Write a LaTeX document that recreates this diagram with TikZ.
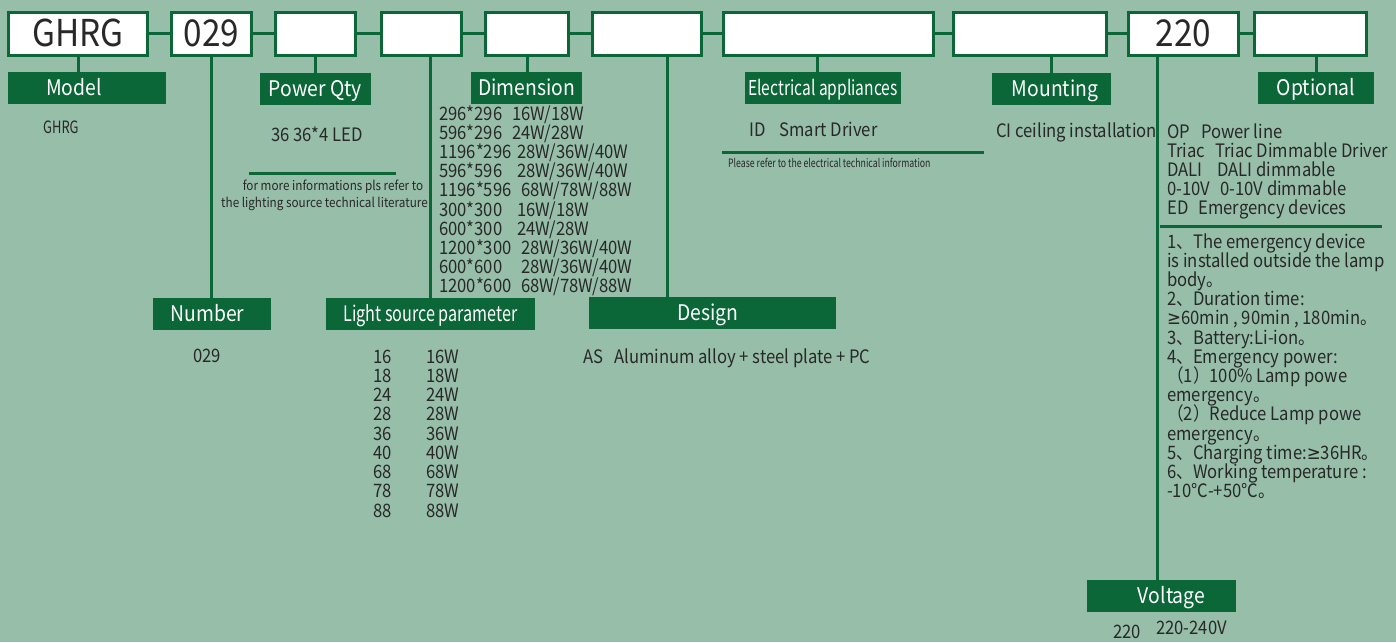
\documentclass[tikz,border=0pt]{standalone}
\usepackage{fontspec}
\setmainfont{Noto Sans CJK SC}[FakeStretch=0.9]
\newfontfamily\narrowfont{Noto Sans CJK SC}[FakeStretch=0.76]
\newfontfamily\symfont{DejaVu Sans}[FakeStretch=0.9]
\definecolor{sage}{RGB}{150,190,169}
\definecolor{dkgreen}{RGB}{11,102,56}
\definecolor{ink}{RGB}{40,40,40}
\tikzset{
  codebox/.style={draw=dkgreen,line width=3pt,fill=white,minimum height=43,inner sep=0,
    text=ink,text height=24,text depth=0,font=\fontsize{37}{37}\selectfont},
  tag/.style={fill=dkgreen,text=white,minimum height=32,inner sep=0,
    text height=14,text depth=0,font=\fontsize{21.5}{21.5}\selectfont},
  link/.style={draw=dkgreen,line width=3pt},
  body/.style={anchor=base west,inner sep=0,text=ink,font=\fontsize{18.5}{19}\selectfont},
  small/.style={anchor=base,inner sep=0,text=ink,font=\fontsize{13}{13}\selectfont},
}
\newcommand{\atleast}{{\symfont ≥}}
\begin{document}
\begin{tikzpicture}[x=1pt,y=-1pt]
  \fill[sage] (0,0) rectangle (1396,642);
  \useasboundingbox (0,0) rectangle (1396,642);

  % code row
  \node[codebox,minimum width=139] (b1) at (78,34) {GHRG};
  \node[codebox,minimum width=80] (b2) at (211.5,34) {029};
  \node[codebox,minimum width=80] (b3) at (315.5,34) {};
  \node[codebox,minimum width=80] (b4) at (421.5,34) {};
  \node[codebox,minimum width=83] (b5) at (527,34) {};
  \node[codebox,minimum width=109] (b6) at (647,34) {};
  \node[codebox,minimum width=210] (b7) at (828.5,34) {};
  \node[codebox,minimum width=153] (b8) at (1030,34) {};
  \node[codebox,minimum width=110] (b9) at (1183.5,34) {220};
  \node[codebox,minimum width=112] (b10) at (1310.5,34) {};
  \foreach \a/\b in {b1/b2,b2/b3,b3/b4,b4/b5,b5/b6,b6/b7,b7/b8,b8/b9,b9/b10}
    \draw[link] (\a) -- (\b);

  % tags
  \node[tag,minimum width=158] (lbModel) at (87,88) {\hspace*{-26pt}Model};
  \node[tag,minimum width=111] (lbPower) at (315.5,89) {Power Qty};
  \node[tag,minimum width=111] (lbDim) at (526.5,88) {Dimension};
  \node[tag,minimum width=156,font=\narrowfont\fontsize{20.5}{20.5}\selectfont] (lbElec) at (823,88) {Electrical appliances};
  \node[tag,minimum width=119] (lbMount) at (1051,89) {\hspace*{8pt}Mounting};
  \node[tag,minimum width=116] (lbOpt) at (1316,88) {Optional};
  \node[tag,minimum width=118] (lbNum) at (212,314) {\hspace*{-9pt}Number};
  \node[tag,minimum width=209,font=\narrowfont\fontsize{21.3}{21.3}\selectfont] (lbLight) at (430.5,314) {Light source parameter};
  \node[tag,minimum width=247] (lbDesign) at (712.5,313) {\hspace*{-9pt}Design};
  \node[tag,minimum width=149] (lbVolt) at (1161.5,596) {Voltage\hspace*{-20pt}};

  % drops
  \coordinate (elx) at (817,0);
  \coordinate (dsx) at (667,0);
  \coordinate (vx) at (1157,0);
  \draw[link] (b1.south) -- (b1.south |- lbModel.north);
  \draw[link] (b3.south) -- (b3.south |- lbPower.north);
  \draw[link] (b5.south) -- (b5.south |- lbDim.north);
  \draw[link] (b7.south -| elx) -- (lbElec.north -| elx);
  \draw[link] (lbMount.north |- b8.south) -- (lbMount.north);
  \draw[link] (lbOpt.north |- b10.south) -- (lbOpt.north);
  \draw[link] (b2.south) -- (b2.south |- lbNum.north);
  \draw[link] (lbLight.north |- b4.south) -- (lbLight.north);
  \draw[link] (b6.south -| dsx) -- (lbDesign.north -| dsx);
  \draw[link] (b9.south -| vx) -- (lbVolt.north -| vx);

  % model / power
  \node[inner sep=0,anchor=base west,text=ink,font=\narrowfont\fontsize{17}{17}\selectfont] (tModel) at (43,133.5) {GHRG};
  \node[body] (tPower) at (271,141) {36 36*4 LED};
  \draw[link] (249,173) -- (396,173);
  \node[small] (tRef1) at (333,190) {for more informations pls refer to};
  \node[small] (tRef2) at (324.5,207) {the lighting source technical literature};

  % dimension
  \node[body] (d0) at (439,120) {296*296};   \node[body] (w0) at (512,120) {16W/18W};
  \node[body] (d1) at (439,139.2) {596*296}; \node[body] (w1) at (512,139.2) {24W/28W};
  \node[body] (d2) at (439,158.4) {1196*296};\node[body] (w2) at (517,158.4) {28W/36W/40W};
  \node[body] (d3) at (439,177.6) {596*596}; \node[body] (w3) at (517,177.6) {28W/36W/40W};
  \node[body] (d4) at (439,196.8) {1196*596};\node[body] (w4) at (521,196.8) {68W/78W/88W};
  \node[body] (d5) at (439,216) {300*300};   \node[body] (w5) at (517,216) {16W/18W};
  \node[body] (d6) at (439,235.2) {600*300}; \node[body] (w6) at (517,235.2) {24W/28W};
  \node[body] (d7) at (439,254.4) {1200*300};\node[body] (w7) at (521,254.4) {28W/36W/40W};
  \node[body] (d8) at (439,273.6) {600*600}; \node[body] (w8) at (521,273.6) {28W/36W/40W};
  \node[body] (d9) at (439,292.8) {1200*600};\node[body] (w9) at (521,292.8) {68W/78W/88W};

  % electrical / mounting
  \node[body] (tElec) at (749,136.5) {ID\hspace{14pt}Smart Driver};
  \draw[link] (722,152) -- (984,152);
  \node[inner sep=0,anchor=base west,text=ink,font=\narrowfont\fontsize{11.5}{11.5}\selectfont] (tElecRef) at (728,167) {Please refer to the electrical technical information};
  \node[body] (tMount) at (996,137.5) {CI ceiling installation};

  % optional
  \foreach \t [count=\i from 0] in {OP\hspace{11pt}Power line,
      Triac\hspace{10pt}Triac Dimmable Driver,DALI\hspace{15pt}DALI dimmable,
      0-10V\hspace{10pt}0-10V dimmable,ED\hspace{10pt}Emergency devices}
    \node[body] (op\i) at (1167,138+19.2*\i) {\t};
  \draw[link] (1160,226) -- (1382,226);
  \foreach \t [count=\i from 0] in {1、The emergency device,is installed outside the lamp,
      body。,2、Duration time:,{\atleast60min , 90min , 180min。},3、Battery:Li-ion。,
      4、Emergency power:,（1）100\% Lamp powe,emergency。,（2）Reduce Lamp powe,
      emergency。,5、Charging time:\atleast36HR。,6、Working temperature :,-10℃-+50℃。}
    \node[body] (em\i) at (1167,248+19.2*\i) {\t};

  % number / light / design / voltage
  \node[body] (tNum) at (193,362) {029};
  \foreach \v [count=\i from 0] in {16,18,24,28,36,40,68,78,88}{
    \node[body] (ls\i) at (373,363+19.25*\i) {\v};
    \node[body] (lw\i) at (426,363+19.25*\i) {\v W};
  }
  \node[body] (tDesign) at (583,363.5) {AS\hspace{11pt}Aluminum alloy + steel plate + PC};
  \node[body] (tVolt) at (1113,638) {220};
  \node[body] (tVoltR) at (1156,634) {220-240V};
\end{tikzpicture}
\end{document}
